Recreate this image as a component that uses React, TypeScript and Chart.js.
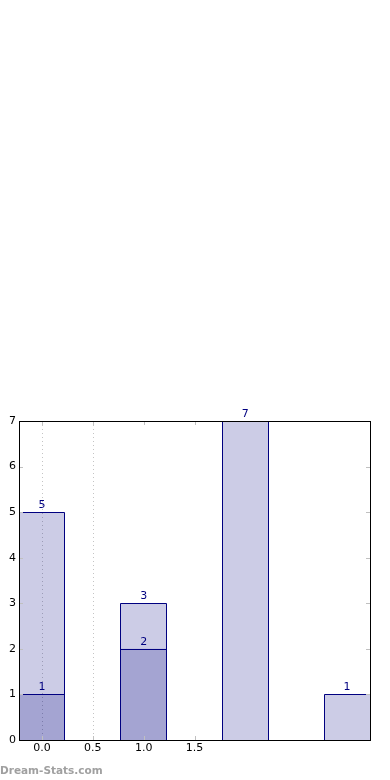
import React, { useEffect, useRef } from "react";
import { Chart, registerables } from "chart.js";

Chart.register(...registerables);

const positions = [0, 1, 2, 3];
const totalValues = [5, 3, 7, 1];
const partValues: (number | null)[] = [1, 2, null, null];
const xTickValues = [0, 0.5, 1.0, 1.5];
const xGridValues = [0, 0.5];
const yTickValues = [0, 1, 2, 3, 4, 5, 6, 7];

const NAVY = "#000080";
const FILL = "rgba(0,0,128,0.2)";
const FONT = "DejaVu Sans";

const px = (v: number) => Math.floor(v + 0.01) + 0.5;

const framePlugin = {
  id: "framePlugin",
  beforeDatasetsDraw(chart: any) {
    const { ctx, chartArea: a, scales } = chart;
    ctx.save();
    ctx.strokeStyle = "#c4c4c4";
    ctx.lineWidth = 1;
    ctx.setLineDash([1, 3]);
    xGridValues.forEach((v) => {
      const x = Math.round(scales.x.getPixelForValue(v)) + 0.5;
      ctx.beginPath();
      ctx.moveTo(x, a.top);
      ctx.lineTo(x, a.bottom);
      ctx.stroke();
    });
    ctx.restore();
  },
  afterDatasetsDraw(chart: any) {
    const { ctx, chartArea: a, scales } = chart;
    ctx.save();
    // crisp bar outlines (left, top, right)
    ctx.strokeStyle = NAVY;
    ctx.lineWidth = 1;
    chart.data.datasets.forEach((ds: any, di: number) => {
      const meta = chart.getDatasetMeta(di);
      meta.data.forEach((el: any, i: number) => {
        const v = ds.data[i]?.y;
        if (v === null || v === undefined) return;
        const l = px(el.x - el.width / 2);
        const r = px(el.x + el.width / 2);
        const t = Math.round(el.y) + 0.5;
        const b = Math.round(el.base);
        ctx.beginPath();
        ctx.moveTo(l, b);
        ctx.lineTo(l, t);
        ctx.lineTo(r, t);
        ctx.lineTo(r, b);
        ctx.stroke();
      });
    });
    // value labels
    ctx.font = `11px "${FONT}"`;
    ctx.fillStyle = NAVY;
    ctx.textAlign = "center";
    ctx.textBaseline = "alphabetic";
    chart.data.datasets.forEach((ds: any, di: number) => {
      const meta = chart.getDatasetMeta(di);
      meta.data.forEach((el: any, i: number) => {
        const v = ds.data[i]?.y;
        if (v === null || v === undefined) return;
        ctx.fillText(String(v), el.x, Math.round(el.y) - 4);
      });
    });
    // inside ticks
    ctx.strokeStyle = "#c0c0c0";
    ctx.lineWidth = 1;
    const L = 4;
    xTickValues.forEach((v) => {
      const x = Math.round(scales.x.getPixelForValue(v)) + 0.5;
      ctx.beginPath();
      ctx.moveTo(x, a.top);
      ctx.lineTo(x, a.top + L);
      ctx.moveTo(x, a.bottom);
      ctx.lineTo(x, a.bottom - L);
      ctx.stroke();
    });
    yTickValues.forEach((v) => {
      const y = Math.round(scales.y.getPixelForValue(v)) + 0.5;
      ctx.beginPath();
      ctx.moveTo(a.left, y);
      ctx.lineTo(a.left + L, y);
      ctx.moveTo(a.right, y);
      ctx.lineTo(a.right - L, y);
      ctx.stroke();
    });
    // frame
    ctx.strokeStyle = "#000";
    ctx.lineWidth = 1;
    const fl = px(a.left);
    const fr = px(a.right);
    const ft = Math.round(a.top) + 0.5;
    const fb = Math.round(a.bottom) + 0.5;
    ctx.strokeRect(fl, ft, fr - fl, fb - ft);
    ctx.restore();
  },
};

export default function App() {
  const ref = useRef<HTMLCanvasElement | null>(null);

  useEffect(() => {
    document.body.style.margin = "0";
    if (!ref.current) return;
    const chart = new Chart(ref.current, {
      type: "bar",
      data: {
        datasets: [
          {
            label: "total",
            data: positions.map((x, i) => ({ x, y: totalValues[i] })),
            backgroundColor: FILL,
            borderWidth: 0,
          },
          {
            label: "part",
            data: positions.map((x, i) => ({ x, y: partValues[i] })),
            backgroundColor: FILL,
            borderWidth: 0,
          },
        ],
      },
      options: {
        animation: false,
        responsive: false,
        maintainAspectRatio: false,
        layout: { padding: { top: 421, right: 20, left: 0, bottom: 0 } },
        datasets: {
          bar: {
            grouped: false,
            categoryPercentage: 1,
            barPercentage: 0.9,
          },
        },
        plugins: {
          legend: { display: false },
          tooltip: { enabled: false },
        },
        scales: {
          x: {
            type: "linear",
            offset: false,
            min: -0.225,
            max: 3.225,
            grid: { display: false, drawTicks: false, offset: false },
            border: { display: false },
            afterBuildTicks: (scale: any) => {
              scale.ticks = xTickValues.map((v) => ({ value: v }));
            },
            afterFit: (scale: any) => {
              scale.height = 40;
            },
            ticks: {
              color: "#000",
              font: { family: FONT, size: 11 },
              padding: 2,
              maxRotation: 0,
              callback: (v: any) => Number(v).toFixed(1),
            },
          },
          y: {
            min: 0,
            max: 7,
            grid: { display: false, drawTicks: false },
            border: { display: false },
            afterBuildTicks: (scale: any) => {
              scale.ticks = yTickValues.map((v) => ({ value: v }));
            },
            afterFit: (scale: any) => {
              scale.width = 19;
            },
            ticks: {
              color: "#000",
              font: { family: FONT, size: 11 },
              padding: 3,
              callback: (v: any) => String(v),
            },
          },
        },
      },
      plugins: [framePlugin],
    });
    return () => chart.destroy();
  }, []);

  return (
    <div style={{ position: "absolute", left: 0, top: 0, width: 390, height: 780 }}>
      <canvas ref={ref} width={390} height={780} style={{ display: "block" }} />
      <div
        style={{
          position: "absolute",
          left: 0,
          top: 762,
          fontFamily: FONT,
          fontWeight: "bold",
          fontSize: 10.5,
          color: "#a0a0a0",
          lineHeight: "16px",
          whiteSpace: "nowrap",
        }}
      >
        Dream-Stats.com
      </div>
    </div>
  );
}
